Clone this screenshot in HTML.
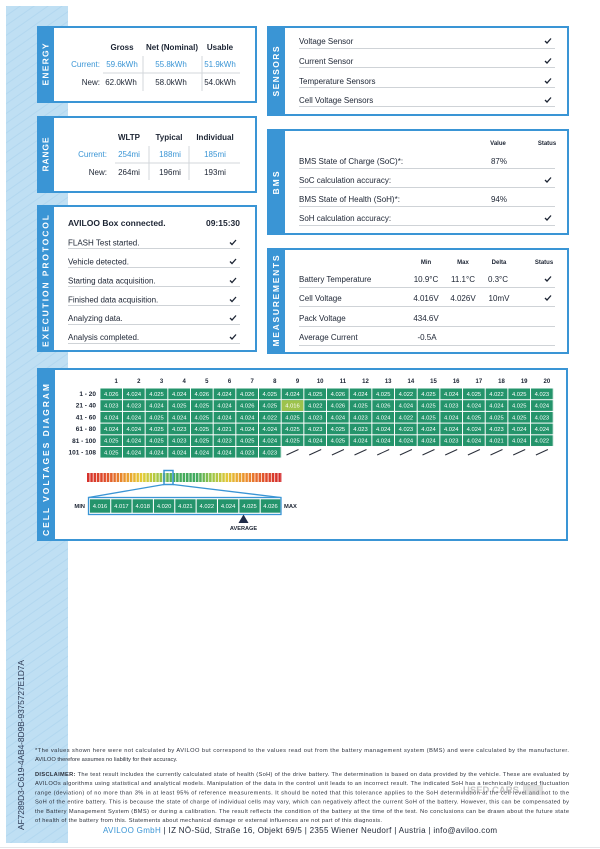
<!DOCTYPE html>
<html><head><meta charset="utf-8"><style>
html,body{margin:0;padding:0;background:#fff}
svg{display:block}
text{font-family:"Liberation Sans",sans-serif;fill:#1c2433}
.b{font-weight:bold}
.t8{font-size:8px}
.t6{font-size:6px}
.tab{font-size:8.5px;font-weight:bold;fill:#fff;text-anchor:middle}
.m{text-anchor:middle}
.e{text-anchor:end}
.bl{fill:#3a95d5}
.cv{font-size:5.8px;fill:#fff;text-anchor:middle}
.ch{font-size:6px;font-weight:bold;text-anchor:middle}
.rl{font-size:6.5px;font-weight:bold;text-anchor:end}
.ft{font-size:5.7px;fill:#2a2f3a}
.sep{stroke:#d3d7db;stroke-width:1}
.ul{stroke:#cfd3d7;stroke-width:1}
.ck{fill:none;stroke:#1c2433;stroke-width:1.3}
.box{fill:#fff;stroke:#3a95d5;stroke-width:2}
.tb{fill:#3a95d5}
</style></head><body>
<svg width="600" height="849" viewBox="0 0 600 849" xmlns="http://www.w3.org/2000/svg">
<defs>
<pattern id="stripes" width="8" height="8" patternUnits="userSpaceOnUse" patternTransform="rotate(-35)">
<rect width="8" height="8" fill="#bfdff3"/><rect width="8" height="1" fill="#b2d7ef"/>
</pattern>
<pattern id="cells" x="100.3" y="388.5" width="22.67" height="11.7" patternUnits="userSpaceOnUse">
<rect width="21.7" height="10.7" fill="#24946b"/>
</pattern>
<pattern id="gaps" x="87" y="0" width="3.3" height="20" patternUnits="userSpaceOnUse">
<rect x="2.55" width="0.75" height="20" fill="#fff"/>
</pattern>
<linearGradient id="heat" x1="0" x2="1" y1="0" y2="0">
<stop offset="0" stop-color="#d52f2b"/>
<stop offset="0.1" stop-color="#e0502a"/>
<stop offset="0.2" stop-color="#ea9a2e"/>
<stop offset="0.28" stop-color="#e5cc36"/>
<stop offset="0.36" stop-color="#a9c843"/>
<stop offset="0.44" stop-color="#49ad58"/>
<stop offset="0.56" stop-color="#3fa95e"/>
<stop offset="0.64" stop-color="#9cc646"/>
<stop offset="0.72" stop-color="#e3c737"/>
<stop offset="0.82" stop-color="#ec8b2d"/>
<stop offset="0.92" stop-color="#df4a2b"/>
<stop offset="1" stop-color="#d2282b"/>
</linearGradient>
</defs>

<!-- left band -->
<rect x="6" y="6" width="62" height="837" fill="url(#stripes)"/>
<line x1="0" y1="847.5" x2="600" y2="847.5" stroke="#e4e6e8" stroke-width="1"/>

<!-- ENERGY -->
<rect class="box" x="38" y="27" width="218" height="75"/>
<rect class="tb" x="37" y="26" width="17" height="77"/>
<text class="tab" transform="translate(48.6,64.5) rotate(-90)" textLength="42" lengthAdjust="spacing">ENERGY</text>
<text class="t8 b m" x="122" y="49.9">Gross</text>
<text class="t8 b m" x="172" y="49.9">Net (Nominal)</text>
<text class="t8 b m" x="220" y="49.9">Usable</text>
<text class="t8 e bl" x="100" y="66.9">Current:</text>
<text class="t8 m bl" x="122" y="66.9">59.6kWh</text>
<text class="t8 m bl" x="171" y="66.9">55.8kWh</text>
<text class="t8 m bl" x="220" y="66.9">51.9kWh</text>
<text class="t8 e" x="100" y="84.9">New:</text>
<text class="t8 m" x="121" y="84.9">62.0kWh</text>
<text class="t8 m" x="171" y="84.9">58.0kWh</text>
<text class="t8 m" x="220" y="84.9">54.0kWh</text>
<line class="sep" x1="143" y1="56" x2="143" y2="91"/>
<line class="sep" x1="202" y1="56" x2="202" y2="91"/>
<line class="sep" x1="103" y1="73" x2="240" y2="73"/>

<!-- RANGE -->
<rect class="box" x="38" y="117" width="218" height="75"/>
<rect class="tb" x="37" y="116" width="17" height="77"/>
<text class="tab" transform="translate(48.6,154.5) rotate(-90)" textLength="34" lengthAdjust="spacing">RANGE</text>
<text class="t8 b m" x="129" y="139.9">WLTP</text>
<text class="t8 b m" x="169" y="139.9">Typical</text>
<text class="t8 b m" x="215" y="139.9">Individual</text>
<text class="t8 e bl" x="107" y="156.9">Current:</text>
<text class="t8 m bl" x="129" y="156.9">254mi</text>
<text class="t8 m bl" x="170" y="156.9">188mi</text>
<text class="t8 m bl" x="215" y="156.9">185mi</text>
<text class="t8 e" x="107" y="174.9">New:</text>
<text class="t8 m" x="129" y="174.9">264mi</text>
<text class="t8 m" x="170" y="174.9">196mi</text>
<text class="t8 m" x="215" y="174.9">193mi</text>
<line class="sep" x1="149" y1="146" x2="149" y2="180"/>
<line class="sep" x1="189" y1="146" x2="189" y2="180"/>
<line class="sep" x1="115" y1="163" x2="240" y2="163"/>

<!-- EXECUTION PROTOCOL -->
<rect class="box" x="38" y="206" width="218" height="145"/>
<rect class="tb" x="37" y="205" width="17" height="147"/>
<text class="tab" transform="translate(48.6,281) rotate(-90)" textLength="132" lengthAdjust="spacing">EXECUTION PROTOCOL</text>
<text class="b" x="68" y="226" font-size="8.5">AVILOO Box connected.</text>
<text class="b e" x="240" y="226" font-size="8.5">09:15:30</text>
<text class="t8" x="68" y="245.4">FLASH Test started.</text>
<text class="t8" x="68" y="264.4">Vehicle detected.</text>
<text class="t8" x="68" y="283.4">Starting data acquisition.</text>
<text class="t8" x="68" y="302.4">Finished data acquisition.</text>
<text class="t8" x="68" y="321">Analyzing data.</text>
<text class="t8" x="68" y="340">Analysis completed.</text>
<line class="ul" x1="68" y1="248.5" x2="240" y2="248.5"/>
<line class="ul" x1="68" y1="267.5" x2="240" y2="267.5"/>
<line class="ul" x1="68" y1="286.5" x2="240" y2="286.5"/>
<line class="ul" x1="68" y1="305.5" x2="240" y2="305.5"/>
<line class="ul" x1="68" y1="324.5" x2="240" y2="324.5"/>
<line class="ul" x1="68" y1="343.5" x2="240" y2="343.5"/>
<path class="ck" d="M230 242.5 L232 244.5 L236 240 M230 261.5 L232 263.5 L236 259 M230 280.5 L232 282.5 L236 278 M230 299.5 L232 301.5 L236 297 M230 318 L232 320 L236 315.5 M230 337 L232 339 L236 334.5"/>

<!-- SENSORS -->
<rect class="box" x="268" y="27" width="300" height="88"/>
<rect class="tb" x="267" y="26" width="18" height="90"/>
<text class="tab" transform="translate(279.1,71.5) rotate(-90)" textLength="50" lengthAdjust="spacing">SENSORS</text>
<text class="t8" x="299" y="43.9">Voltage Sensor</text>
<text class="t8" x="299" y="63.9">Current Sensor</text>
<text class="t8" x="299" y="83.9">Temperature Sensors</text>
<text class="t8" x="299" y="102.9">Cell Voltage Sensors</text>
<line class="ul" x1="299" y1="48.5" x2="555" y2="48.5"/>
<line class="ul" x1="299" y1="67.5" x2="555" y2="67.5"/>
<line class="ul" x1="299" y1="87.5" x2="555" y2="87.5"/>
<line class="ul" x1="299" y1="106.5" x2="555" y2="106.5"/>
<path class="ck" d="M545 41 L547 43 L551 38.5 M545 61 L547 63 L551 58.5 M545 81 L547 83 L551 78.5 M545 100 L547 102 L551 97.5"/>

<!-- BMS -->
<rect class="box" x="268" y="130" width="300" height="104"/>
<rect class="tb" x="267" y="129" width="18" height="106"/>
<text class="tab" transform="translate(279.1,183) rotate(-90)" textLength="23" lengthAdjust="spacing">BMS</text>
<text class="t6 b m" x="498" y="145">Value</text>
<text class="t6 b m" x="547" y="145">Status</text>
<text class="t8" x="299" y="163.9">BMS State of Charge (SoC)*:</text>
<text class="t8 m" x="499" y="163.9">87%</text>
<text class="t8" x="299" y="182.9">SoC calculation accuracy:</text>
<text class="t8" x="299" y="201.9">BMS State of Health (SoH)*:</text>
<text class="t8 m" x="499" y="201.9">94%</text>
<text class="t8" x="299" y="220.9">SoH calculation accuracy:</text>
<line class="ul" x1="299" y1="168.5" x2="555" y2="168.5"/>
<line class="ul" x1="299" y1="187.5" x2="555" y2="187.5"/>
<line class="ul" x1="299" y1="206.5" x2="555" y2="206.5"/>
<line class="ul" x1="299" y1="225.5" x2="555" y2="225.5"/>
<path class="ck" d="M545 180 L547 182 L551 177.5 M545 218 L547 220 L551 215.5"/>

<!-- MEASUREMENTS -->
<rect class="box" x="268" y="249" width="300" height="104"/>
<rect class="tb" x="267" y="248" width="18" height="106"/>
<text class="tab" transform="translate(279.1,301) rotate(-90)" textLength="91" lengthAdjust="spacing">MEASUREMENTS</text>
<text class="t6 b m" x="426" y="264">Min</text>
<text class="t6 b m" x="463" y="264">Max</text>
<text class="t6 b m" x="499" y="264">Delta</text>
<text class="t6 b m" x="544" y="264">Status</text>
<text class="t8" x="299" y="281.9">Battery Temperature</text>
<text class="t8 m" x="426" y="281.9">10.9°C</text>
<text class="t8 m" x="463" y="281.9">11.1°C</text>
<text class="t8 m" x="498" y="281.9">0.3°C</text>
<text class="t8" x="299" y="300.9">Cell Voltage</text>
<text class="t8 m" x="426" y="300.9">4.016V</text>
<text class="t8 m" x="463" y="300.9">4.026V</text>
<text class="t8 m" x="499" y="300.9">10mV</text>
<text class="t8" x="299" y="320.9">Pack Voltage</text>
<text class="t8 m" x="426" y="320.9">434.6V</text>
<text class="t8" x="299" y="339.9">Average Current</text>
<text class="t8 m" x="427" y="339.9">-0.5A</text>
<line class="ul" x1="299" y1="287.5" x2="555" y2="287.5"/>
<line class="ul" x1="299" y1="306.5" x2="555" y2="306.5"/>
<line class="ul" x1="299" y1="326.5" x2="555" y2="326.5"/>
<line class="ul" x1="299" y1="345.5" x2="555" y2="345.5"/>
<path class="ck" d="M545 279 L547 281 L551 276.5 M545 298 L547 300 L551 295.5"/>

<!-- CELL VOLTAGES DIAGRAM -->
<rect class="box" x="38" y="369" width="529" height="171"/>
<rect class="tb" x="37" y="368" width="18" height="173"/>
<text class="tab" transform="translate(49.1,460) rotate(-90)" textLength="152" lengthAdjust="spacing">CELL VOLTAGES DIAGRAM</text>

<text class="ch" y="383"><tspan x="116.2">1</tspan><tspan x="138.8">2</tspan><tspan x="161.5">3</tspan><tspan x="184.2">4</tspan><tspan x="206.8">5</tspan><tspan x="229.5">6</tspan><tspan x="252.2">7</tspan><tspan x="274.8">8</tspan><tspan x="297.5">9</tspan><tspan x="320.2">10</tspan><tspan x="342.9">11</tspan><tspan x="365.5">12</tspan><tspan x="388.2">13</tspan><tspan x="410.9">14</tspan><tspan x="433.5">15</tspan><tspan x="456.2">16</tspan><tspan x="478.9">17</tspan><tspan x="501.5">18</tspan><tspan x="524.2">19</tspan><tspan x="546.9">20</tspan></text>

<text class="rl" x="96" y="396">1 - 20</text>
<text class="rl" x="96" y="407.7">21 - 40</text>
<text class="rl" x="96" y="419.4">41 - 60</text>
<text class="rl" x="96" y="431.1">61 - 80</text>
<text class="rl" x="96" y="442.8">81 - 100</text>
<text class="rl" x="96" y="454.5">101 - 108</text>

<rect x="100.3" y="388.5" width="453.4" height="58.5" fill="url(#cells)"/>
<rect x="100.3" y="447" width="181.36" height="10.7" fill="url(#cells)"/>
<rect x="281.66" y="400.2" width="21.7" height="10.7" fill="#9dc24c"/>

<text class="cv" y="395.9"><tspan x="111.2">4.026</tspan><tspan x="133.8">4.024</tspan><tspan x="156.5">4.025</tspan><tspan x="179.2">4.024</tspan><tspan x="201.8">4.026</tspan><tspan x="224.5">4.024</tspan><tspan x="247.2">4.026</tspan><tspan x="269.8">4.025</tspan><tspan x="292.5">4.024</tspan><tspan x="315.2">4.025</tspan><tspan x="337.9">4.026</tspan><tspan x="360.5">4.024</tspan><tspan x="383.2">4.025</tspan><tspan x="405.9">4.022</tspan><tspan x="428.5">4.025</tspan><tspan x="451.2">4.024</tspan><tspan x="473.9">4.025</tspan><tspan x="496.5">4.022</tspan><tspan x="519.2">4.025</tspan><tspan x="541.9">4.023</tspan></text>
<text class="cv" y="407.6"><tspan x="111.2">4.023</tspan><tspan x="133.8">4.023</tspan><tspan x="156.5">4.024</tspan><tspan x="179.2">4.025</tspan><tspan x="201.8">4.025</tspan><tspan x="224.5">4.024</tspan><tspan x="247.2">4.026</tspan><tspan x="269.8">4.025</tspan><tspan x="292.5">4.016</tspan><tspan x="315.2">4.022</tspan><tspan x="337.9">4.026</tspan><tspan x="360.5">4.025</tspan><tspan x="383.2">4.026</tspan><tspan x="405.9">4.024</tspan><tspan x="428.5">4.025</tspan><tspan x="451.2">4.023</tspan><tspan x="473.9">4.024</tspan><tspan x="496.5">4.024</tspan><tspan x="519.2">4.025</tspan><tspan x="541.9">4.024</tspan></text>
<text class="cv" y="419.3"><tspan x="111.2">4.024</tspan><tspan x="133.8">4.024</tspan><tspan x="156.5">4.025</tspan><tspan x="179.2">4.024</tspan><tspan x="201.8">4.025</tspan><tspan x="224.5">4.024</tspan><tspan x="247.2">4.024</tspan><tspan x="269.8">4.022</tspan><tspan x="292.5">4.025</tspan><tspan x="315.2">4.023</tspan><tspan x="337.9">4.024</tspan><tspan x="360.5">4.023</tspan><tspan x="383.2">4.024</tspan><tspan x="405.9">4.022</tspan><tspan x="428.5">4.025</tspan><tspan x="451.2">4.024</tspan><tspan x="473.9">4.025</tspan><tspan x="496.5">4.025</tspan><tspan x="519.2">4.025</tspan><tspan x="541.9">4.023</tspan></text>
<text class="cv" y="431"><tspan x="111.2">4.024</tspan><tspan x="133.8">4.024</tspan><tspan x="156.5">4.025</tspan><tspan x="179.2">4.023</tspan><tspan x="201.8">4.025</tspan><tspan x="224.5">4.021</tspan><tspan x="247.2">4.024</tspan><tspan x="269.8">4.024</tspan><tspan x="292.5">4.025</tspan><tspan x="315.2">4.023</tspan><tspan x="337.9">4.025</tspan><tspan x="360.5">4.023</tspan><tspan x="383.2">4.024</tspan><tspan x="405.9">4.023</tspan><tspan x="428.5">4.024</tspan><tspan x="451.2">4.024</tspan><tspan x="473.9">4.024</tspan><tspan x="496.5">4.023</tspan><tspan x="519.2">4.024</tspan><tspan x="541.9">4.024</tspan></text>
<text class="cv" y="442.7"><tspan x="111.2">4.025</tspan><tspan x="133.8">4.024</tspan><tspan x="156.5">4.025</tspan><tspan x="179.2">4.023</tspan><tspan x="201.8">4.025</tspan><tspan x="224.5">4.023</tspan><tspan x="247.2">4.025</tspan><tspan x="269.8">4.024</tspan><tspan x="292.5">4.025</tspan><tspan x="315.2">4.024</tspan><tspan x="337.9">4.025</tspan><tspan x="360.5">4.024</tspan><tspan x="383.2">4.024</tspan><tspan x="405.9">4.024</tspan><tspan x="428.5">4.024</tspan><tspan x="451.2">4.023</tspan><tspan x="473.9">4.024</tspan><tspan x="496.5">4.021</tspan><tspan x="519.2">4.024</tspan><tspan x="541.9">4.022</tspan></text>
<text class="cv" y="454.4"><tspan x="111.2">4.025</tspan><tspan x="133.8">4.024</tspan><tspan x="156.5">4.024</tspan><tspan x="179.2">4.024</tspan><tspan x="201.8">4.024</tspan><tspan x="224.5">4.024</tspan><tspan x="247.2">4.023</tspan><tspan x="269.8">4.023</tspan></text>

<path stroke="#2a2f3a" stroke-width="1" fill="none" d="M286.5 455 L298.5 449.5 M309.2 455 L321.2 449.5 M331.9 455 L343.9 449.5 M354.5 455 L366.5 449.5 M377.2 455 L389.2 449.5 M399.9 455 L411.9 449.5 M422.5 455 L434.5 449.5 M445.2 455 L457.2 449.5 M467.9 455 L479.9 449.5 M490.5 455 L502.5 449.5 M513.2 455 L525.2 449.5 M535.9 455 L547.9 449.5"/>

<!-- heat bar -->
<rect x="87" y="473" width="195" height="9" fill="url(#heat)"/>
<rect x="87" y="472" width="195" height="11" fill="url(#gaps)"/>
<rect x="164" y="470.5" width="9" height="14" fill="none" stroke="#3a95d5" stroke-width="1.5"/>
<path d="M164 484.5 L88.5 497.5 M173 484.5 L280.5 497.5" stroke="#3a95d5" stroke-width="1.3" fill="none"/>
<rect x="88.5" y="497.5" width="192.5" height="17" fill="#fff" stroke="#3a95d5" stroke-width="1.3"/>
<g fill="#24946b">
<rect x="89.9" y="499.3" width="20.3" height="13.4"/>
<rect x="111.25" y="499.3" width="20.3" height="13.4"/>
<rect x="132.6" y="499.3" width="20.3" height="13.4"/>
<rect x="153.95" y="499.3" width="20.3" height="13.4"/>
<rect x="175.3" y="499.3" width="20.3" height="13.4"/>
<rect x="196.65" y="499.3" width="20.3" height="13.4"/>
<rect x="218" y="499.3" width="20.3" height="13.4"/>
<rect x="239.35" y="499.3" width="20.3" height="13.4"/>
<rect x="260.7" y="499.3" width="19.6" height="13.4"/>
</g>
<text class="cv" y="508.2"><tspan x="100">4.016</tspan><tspan x="121.4">4.017</tspan><tspan x="142.7">4.018</tspan><tspan x="164.1">4.020</tspan><tspan x="185.4">4.021</tspan><tspan x="206.8">4.022</tspan><tspan x="228.1">4.024</tspan><tspan x="249.5">4.025</tspan><tspan x="270.5">4.026</tspan></text>
<text class="b e" x="85" y="508" font-size="5.8">MIN</text>
<text class="b" x="284" y="508" font-size="5.8">MAX</text>
<path d="M243.5 514.5 L248.5 523 L238.5 523 Z" fill="#1f2b48"/>
<text class="b m" x="243.5" y="530" font-size="5.6" fill="#1f2b48">AVERAGE</text>

<!-- vertical id -->
<text transform="translate(24,745) rotate(-90)" class="m" font-size="8.5" fill="#2d3a55" style="fill:#2d3a55" textLength="170" lengthAdjust="spacing">AF7289D3-C619-4AB4-8D9B-9375727E1D7A</text>

<!-- footnotes -->
<text class="ft" x="35" y="752" textLength="534" lengthAdjust="spacing">*The values shown here were not calculated by AVILOO but correspond to the values read out from the battery management system (BMS) and were calculated by the manufacturer.</text>
<text class="ft" x="35" y="761">AVILOO therefore assumes no liability for their accuracy.</text>
<text class="ft" x="35" y="776" textLength="534" lengthAdjust="spacing"><tspan class="b">DISCLAIMER:</tspan> The test result includes the currently calculated state of health (SoH) of the drive battery. The determination is based on data provided by the vehicle. These are evaluated by</text>
<text class="ft" x="35" y="785.2" textLength="534" lengthAdjust="spacing">AVILOOs algorithms using statistical and analytical models. Manipulation of the data in the control unit leads to an incorrect result. The indicated SoH has a technically induced fluctuation</text>
<text class="ft" x="35" y="794.4" textLength="534" lengthAdjust="spacing">range (deviation) of no more than 3% in at least 95% of reference measurements. It should be noted that this tolerance applies to the SoH determination at the cell level and not to the</text>
<text class="ft" x="35" y="803.6" textLength="534" lengthAdjust="spacing">SoH of the entire battery. This is because the state of charge of individual cells may vary, which can negatively affect the current SoH of the battery. However, this can be compensated by</text>
<text class="ft" x="35" y="812.8" textLength="534" lengthAdjust="spacing">the Battery Management System (BMS) or during a calibration. The result reflects the condition of the battery at the time of the test. No conclusions can be drawn about the future state</text>
<text class="ft" x="35" y="822" textLength="347" lengthAdjust="spacing">of health of the battery from this. Statements about mechanical damage or external influences are not part of this diagnosis.</text>

<!-- watermark -->
<text x="463" y="793" font-size="9.5" font-weight="bold" style="fill:rgba(150,150,150,0.55)">USED CARS</text>
<rect x="523" y="785" width="20" height="10" fill="rgba(170,170,170,0.35)"/>

<!-- footer -->
<text x="103" y="833" font-size="8" textLength="394" lengthAdjust="spacing"><tspan class="bl">AVILOO GmbH</tspan>  |  IZ NÖ-Süd, Straße 16, Objekt 69/5  |  2355 Wiener Neudorf  |  Austria  |  info@aviloo.com</text>
</svg>
</body></html>
